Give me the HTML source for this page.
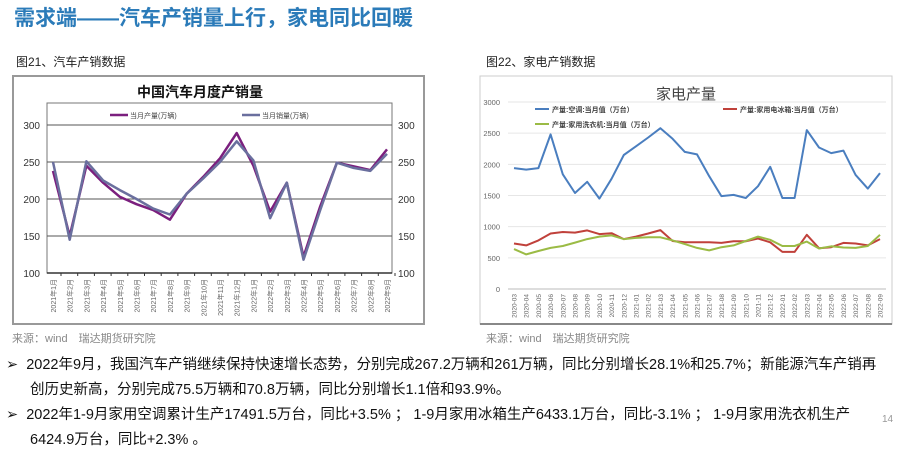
<!DOCTYPE html>
<html><head><meta charset="utf-8">
<style>
body{margin:0;width:900px;height:456px;overflow:hidden;background:#fff;font-family:"Liberation Sans","Noto Sans CJK SC",sans-serif;position:relative}
.abs{position:absolute;white-space:nowrap}
</style></head><body>
<div class="abs" style="left:14px;top:2px;font-size:21px;font-weight:bold;color:#2b7bb9">需求端——汽车产销量上行，家电同比回暖</div>
<div class="abs" style="left:16px;top:53px;font-size:12px;color:#222">图21、汽车产销数据</div>
<div class="abs" style="left:486px;top:53px;font-size:12px;color:#222">图22、家电产销数据</div>
<div class="abs" style="left:12px;top:330px;font-size:11px;color:#888">来源：wind　瑞达期货研究院</div>
<div class="abs" style="left:486px;top:330px;font-size:11px;color:#888">来源：wind　瑞达期货研究院</div>
<div class="abs" style="left:6px;top:353px;font-size:14.5px;line-height:25px;color:#111">
<div>➢&nbsp;&nbsp;2022年9月，我国汽车产销继续保持快速增长态势，分别完成267.2万辆和261万辆，同比分别增长28.1%和25.7%；新能源汽车产销再</div>
<div style="padding-left:24px">创历史新高，分别完成75.5万辆和70.8万辆，同比分别增长1.1倍和93.9%。</div>
<div>➢&nbsp;&nbsp;2022年1-9月家用空调累计生产17491.5万台，同比+3.5% ； 1-9月家用冰箱生产6433.1万台，同比-3.1% ； 1-9月家用洗衣机生产</div>
<div style="padding-left:24px">6424.9万台，同比+2.3% 。</div>
</div>
<div class="abs" style="left:882px;top:414px;font-size:10px;color:#999">14</div>
<svg id="c1" width="900" height="456" style="position:absolute;left:0;top:0"></svg>
<script>
const autoMonths=["2021年1月","2021年2月","2021年3月","2021年4月","2021年5月","2021年6月","2021年7月","2021年8月","2021年9月","2021年10月","2021年11月","2021年12月","2022年1月","2022年2月","2022年3月","2022年4月","2022年5月","2022年6月","2022年7月","2022年8月","2022年9月"];
const autoProd=[238,150,245,222,203,193,185,172,207,230,255,289,245,183,222,122,190,249,244,239,267];
const autoSales=[250,145,251,225,212,200,187,179,207,228,250,278,252,174,222,118,185,249,242,238,261];
const autoTicks=[100,150,200,250,300];
const acMonths=["2020-03","2020-04","2020-05","2020-06","2020-07","2020-08","2020-09","2020-10","2020-11","2020-12","2021-01","2021-02","2021-03","2021-04","2021-05","2021-06","2021-07","2021-08","2021-09","2021-10","2021-11","2021-12","2022-01","2022-02","2022-03","2022-04","2022-05","2022-06","2022-07","2022-08","2022-09"];
const acVals=[1940,1915,1940,2480,1840,1540,1720,1450,1770,2150,2290,2430,2580,2410,2200,2160,1810,1490,1510,1460,1650,1960,1460,1460,2550,2270,2180,2220,1830,1610,1860];
const fridgeVals=[730,700,780,890,915,905,940,880,895,800,840,890,945,770,750,750,750,740,765,765,810,750,595,595,870,655,670,740,730,700,800];
const washerVals=[640,555,610,660,690,745,800,840,860,800,820,830,830,780,720,660,620,670,700,770,840,790,690,690,760,650,685,665,660,690,870];
const applTicks=[0,500,1000,1500,2000,2500,3000];
const NS="http://www.w3.org/2000/svg";
const svg=document.getElementById('c1');
function mk(t,a,txt){const e=document.createElementNS(NS,t);for(const k in a)e.setAttribute(k,a[k]);if(txt!==undefined)e.textContent=txt;svg.appendChild(e);return e;}
let f=mk('rect',{x:13,y:76,width:411,height:248,fill:'none',stroke:'#999','stroke-width':2});

let t=mk('text',{x:200,y:97,'font-size':14,'font-weight':'bold','text-anchor':'middle',fill:'#111'},'中国汽车月度产销量');

const L={x0:47,x1:392,yTop:103,y100:273};
const ax=i=>53+i*(387-53)/(autoMonths.length-1);
const ay=v=>273-(v-100)*(273-125)/200;
mk('rect',{x:L.x0,y:L.yTop,width:L.x1-L.x0,height:L.y100-L.yTop,fill:'none',stroke:'#777','stroke-width':1});
autoTicks.forEach(v=>{
 if(v>100){let g=mk('line',{x1:L.x0,x2:L.x1,y1:ay(v),y2:ay(v),stroke:'#555','stroke-width':1});}
 let a=mk('text',{x:40,y:ay(v)+4,'font-size':10,'text-anchor':'end',fill:'#333'},v);
 let b=mk('text',{x:398,y:ay(v)+4,'font-size':10,fill:'#333'},v);
});
mk('line',{x1:L.x0,x2:L.x1,y1:L.y100,y2:L.y100,stroke:'#333','stroke-width':1.5});
autoMonths.forEach((m,i)=>{
 mk('line',{x1:ax(i)+8,x2:ax(i)+8,y1:L.y100,y2:L.y100+3,stroke:'#333'});
 let e=mk('text',{x:0,y:0,'font-size':7,fill:'#666','text-anchor':'end',transform:`translate(${ax(i)+3},${L.y100+6}) rotate(-90)`},m);
 
});
function line(vals,xf,yf,col,w,name){const p=vals.map((v,i)=>(i?'L':'M')+xf(i).toFixed(1)+','+yf(v).toFixed(1)).join('');const e=mk('path',{d:p,fill:'none',stroke:col,'stroke-width':w,'stroke-linejoin':'round'});}
line(autoProd,ax,ay,'#7b1f7e',2.5,'production-line');
line(autoSales,ax,ay,'#6a6f9e',2.5,'sales-line');
mk('line',{x1:110,x2:128,y1:115,y2:115,stroke:'#7b1f7e','stroke-width':2.5});
let l1=mk('text',{x:130,y:118,'font-size':7,fill:'#444'},'当月产量(万辆)');
mk('line',{x1:242,x2:260,y1:115,y2:115,stroke:'#6a6f9e','stroke-width':2.5});
let l2=mk('text',{x:262,y:118,'font-size':7,fill:'#444'},'当月销量(万辆)');
let f2=mk('rect',{x:480,y:76,width:412,height:248,fill:'none',stroke:'#ccc','stroke-width':1});

mk('line',{x1:480,x2:892,y1:324,y2:324,stroke:'#888','stroke-width':2});
let t2=mk('text',{x:686,y:99,'font-size':15,'text-anchor':'middle',fill:'#444'},'家电产量');

const bx=i=>514+i*(880-514)/(acMonths.length-1);
const by=v=>289-v*(289-102)/3000;
applTicks.forEach(v=>{
 let g=mk('line',{x1:508,x2:886,y1:by(v),y2:by(v),stroke:v?'#e6e6e6':'#bbb','stroke-width':1});
 let a=mk('text',{x:500,y:by(v)+3,'font-size':7.5,'text-anchor':'end',fill:'#666'},v);
});
acMonths.forEach((m,i)=>{
 let e=mk('text',{x:0,y:0,'font-size':6.5,fill:'#666','text-anchor':'end',transform:`translate(${bx(i)+2.5},${294}) rotate(-90)`},m);
 
});
line(acVals,bx,by,'#4a7ebf',2,'ac-line');
line(fridgeVals,bx,by,'#c0413b',2,'fridge-line');
line(washerVals,bx,by,'#9bbb45',2,'washer-line');
const legs=[[535,109,'#4a7ebf','产量:空调:当月值（万台）','legend-ac'],[723,109,'#c0413b','产量:家用电冰箱:当月值（万台）','legend-fridge'],[535,124,'#9bbb45','产量:家用洗衣机:当月值（万台）','legend-washer']];
legs.forEach(g=>{mk('line',{x1:g[0],x2:g[0]+14,y1:g[1],y2:g[1],stroke:g[2],'stroke-width':2});let e=mk('text',{x:g[0]+17,y:g[1]+3,'font-size':7,'font-weight':'bold',fill:'#444'},g[3]);});
</script>
</body></html>
